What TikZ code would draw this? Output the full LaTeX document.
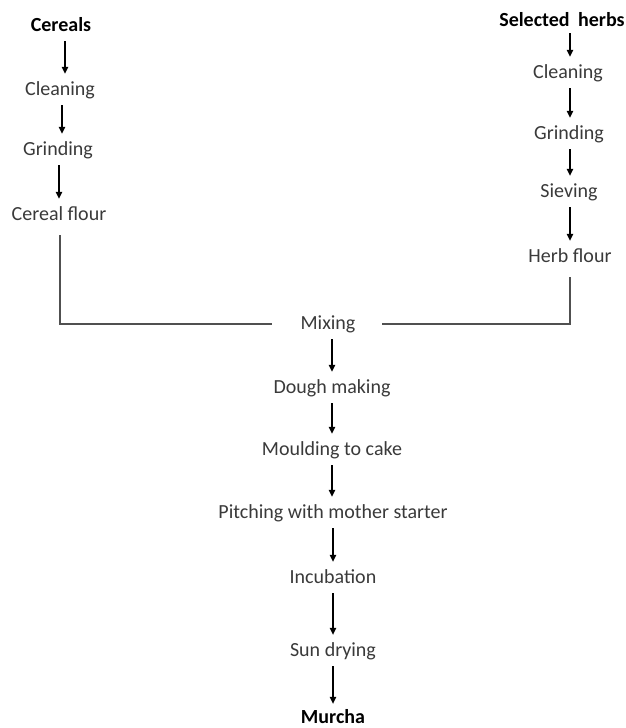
\documentclass[tikz,border=0pt]{standalone}
\usepackage{fontspec}
\setmainfont{Carlito}
\usetikzlibrary{arrows.meta}
\definecolor{txt}{HTML}{3A3A3A}
\definecolor{ln}{HTML}{505050}
\begin{document}
\begin{tikzpicture}[x=1pt,y=-1pt,
  lbl/.style={inner sep=0pt,text height=14pt,text depth=4pt,font=\fontsize{20}{22}\selectfont,text=txt},
  hd/.style={lbl,font=\fontsize{20}{22}\selectfont\bfseries,text=black},
  arr/.style={draw=black,line width=1.1pt,-{Triangle[length=7pt,width=6.5pt]},shorten <=6pt,shorten >=7pt},
  conn/.style={draw=ln,line width=1.3pt}]
\useasboundingbox[fill=white] (0,0) rectangle (626,728);
% left column
\node[hd]  (cer)  at (61,26)  {Cereals};
\node[lbl] (lcl)  at (60,90)  {Cleaning};
\node[lbl] (lgr)  at (58,150) {Grinding};
\node[lbl] (cf)   at (59,215) {Cereal flour};
% right column
\node[hd]  (sh)   at (562,22)  {Selected\hspace{4pt} herbs};
\node[lbl] (rcl)  at (568,73)  {Cleaning};
\node[lbl] (rgr)  at (569,134) {Grinding};
\node[lbl] (sv)   at (569,192) {Sieving};
\node[lbl] (hf)   at (570,257) {Herb flour};
% centre column
\node[lbl] (mix)  at (328,324) {Mixing};
\node[lbl] (dm)   at (332,388) {Dough making};
\node[lbl] (mc)   at (332,450) {Moulding to cake};
\node[lbl] (pm)   at (333,513) {Pitching with mother starter};
\node[lbl] (inc)  at (333,578) {Incubation};
\node[lbl] (sd)   at (333,651) {Sun drying};
\node[hd]  (mur)  at (333,718) {Murcha};
% left arrows
\draw[arr] ([xshift=4pt]cer.south) -- ([xshift=4pt]cer.south |- lcl.north);
\draw[arr] ([xshift=2pt]lcl.south) -- ([xshift=2pt]lcl.south |- lgr.north);
\draw[arr] ([xshift=1pt]lgr.south) -- ([xshift=1pt]lgr.south |- cf.north);
% right arrows
\draw[arr,shorten <=2pt] ([xshift=8pt]sh.south) -- ([xshift=8pt]sh.south |- rcl.north);
\draw[arr] ([xshift=2pt]rcl.south) -- ([xshift=2pt]rcl.south |- rgr.north);
\draw[arr] ([xshift=1pt]rgr.south) -- ([xshift=1pt]rgr.south |- sv.north);
\draw[arr] ([xshift=1pt]sv.south) -- ([xshift=1pt]sv.south |- hf.north);
% centre arrows
\draw[arr] ([xshift=4pt]mix.south) -- ([xshift=4pt]mix.south |- dm.north);
\draw[arr] (dm.south) -- (dm.south |- mc.north);
\draw[arr] (mc.south) -- (mc.south |- pm.north);
\draw[arr] (pm.south) -- (pm.south |- inc.north);
\draw[arr] (inc.south) -- (inc.south |- sd.north);
\draw[arr,shorten >=5pt] (sd.south) -- (sd.south |- mur.north);
% merging lines
\draw[conn,shorten <=11pt] ([xshift=1pt]cf.south) |- ([xshift=-28pt]mix.west);
\draw[conn,shorten <=11pt] (hf.south) |- ([xshift=26pt]mix.east);
\end{tikzpicture}
\end{document}
